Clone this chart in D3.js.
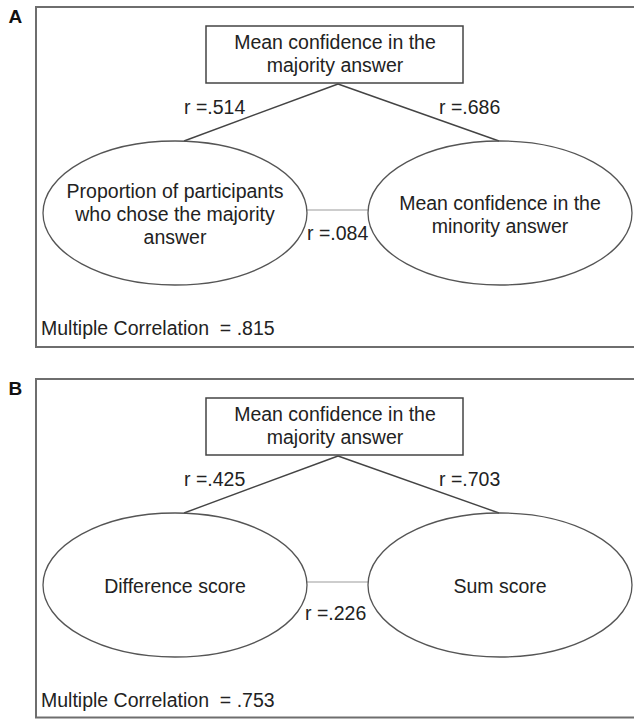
<!DOCTYPE html>
<html>
<head>
<meta charset="utf-8">
<script src="https://cdn.jsdelivr.net/npm/d3@7"></script>
<style>
  html, body { margin: 0; padding: 0; background: #fff; }
  svg text { font-family: "Liberation Sans", Arial, sans-serif; fill: #222; white-space: pre; }
</style>
</head>
<body>
<svg id="chart" width="634" height="719"></svg>
<script>
// ---- data ----
const panels = ["A", "B"];
const topLabel = [["Mean confidence in the", "majority answer"], ["Mean confidence in the", "majority answer"]];
const leftLabel = [["Proportion of participants", "who chose the majority", "answer"], ["Difference score"]];
const rightLabel = [["Mean confidence in the", "minority answer"], ["Sum score"]];
const rLeft = [".514", ".425"];
const rRight = [".686", ".703"];
const rMiddle = [".084", ".226"];
const multipleR = [".815", ".753"];

// ---- layout ----
const svg = d3.select("#chart");
const x = d3.scaleLinear().domain([0, 634]).range([0, 634]);
const yOff = d3.scaleOrdinal().domain(panels).range([0, 372]);
const fs = 19.5;
const lh = 23;

panels.forEach((p, i) => {
  const g = svg.append("g").attr("transform", `translate(0,${yOff(p)})`);

  // panel letter
  g.append("text").attr("x", x(8.5)).attr("y", 23)
    .style("font-weight", "bold").style("font-size", "19px").style("fill", "#111")
    .text(p);

  // frame
  g.append("rect").attr("x", x(36)).attr("y", 7)
    .attr("width", 620).attr("height", i === 0 ? 340 : 338.5)
    .attr("fill", "none").attr("stroke", "#6e6e6e").attr("stroke-width", 2);

  // connecting lines from top box to ellipses
  const apex = [x(338), 84];
  g.selectAll("line.conn").data([[184, 141], [499, 141]]).join("line")
    .attr("class", "conn")
    .attr("x1", apex[0]).attr("y1", apex[1])
    .attr("x2", d => x(d[0])).attr("y2", d => d[1])
    .attr("stroke", "#444").attr("stroke-width", 1.4);

  // light grey connector between ellipses
  g.append("line").attr("x1", x(307)).attr("x2", x(368)).attr("y1", 210).attr("y2", 210)
    .attr("stroke", "#bdbdbd").attr("stroke-width", 1.6);

  // top box
  g.append("rect").attr("x", x(206)).attr("y", 26).attr("width", 257).attr("height", 57)
    .attr("fill", "#fff").attr("stroke", "#444").attr("stroke-width", 1.5);
  g.selectAll("text.top").data(topLabel[i]).join("text").attr("class", "top")
    .attr("x", x(335)).attr("y", (d, k) => 49 + k * lh)
    .attr("text-anchor", "middle").style("font-size", fs + "px")
    .text(d => d);

  // ellipses
  const ells = [{cx: 175, lines: leftLabel[i]}, {cx: 500, lines: rightLabel[i]}];
  ells.forEach(e => {
    g.append("ellipse").attr("cx", x(e.cx)).attr("cy", 213).attr("rx", 132).attr("ry", 72)
      .attr("fill", "none").attr("stroke", "#555").attr("stroke-width", 1.3);
    const n = e.lines.length;
    const start = 221 - (n - 1) * lh / 2;
    g.selectAll(null).data(e.lines).join("text")
      .attr("x", x(e.cx)).attr("y", (d, k) => start + k * lh)
      .attr("text-anchor", "middle").style("font-size", fs + "px")
      .text(d => d);
  });

  // correlation labels
  g.append("text").attr("x", x(184)).attr("y", 114).style("font-size", fs + "px").text("r =" + rLeft[i]);
  g.append("text").attr("x", x(439)).attr("y", 114).style("font-size", fs + "px").text("r =" + rRight[i]);
  g.append("text").attr("x", x(i === 0 ? 307 : 305)).attr("y", i === 0 ? 240 : 248)
    .style("font-size", fs + "px").text("r =" + rMiddle[i]);

  // multiple correlation
  g.append("text").attr("x", x(41)).attr("y", 335).style("font-size", fs + "px")
    .text("Multiple Correlation  = " + multipleR[i]);
});
</script>
</body>
</html>
